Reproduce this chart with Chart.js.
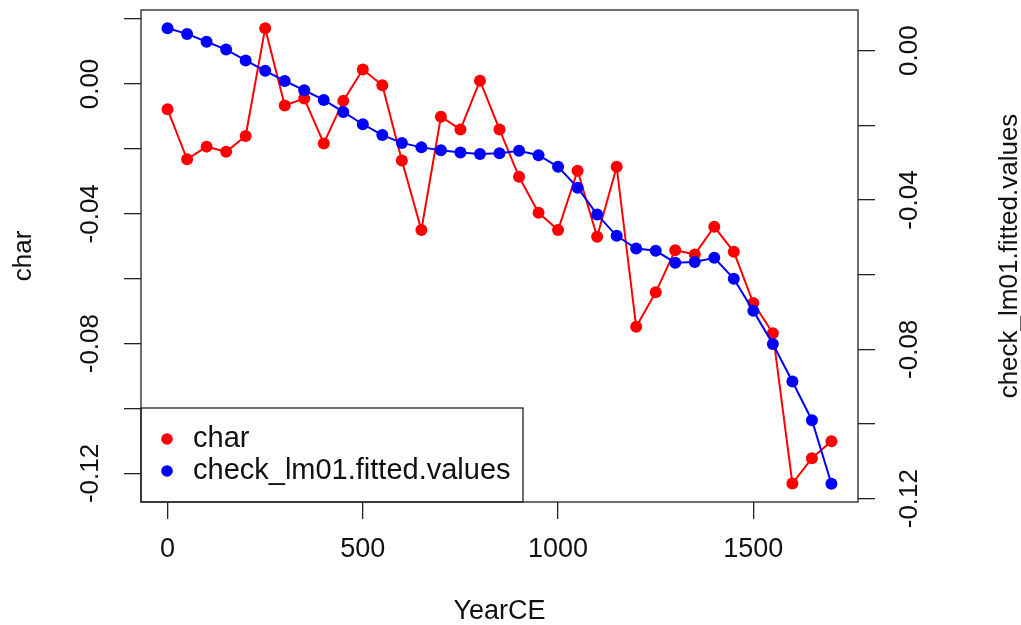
<!DOCTYPE html>
<html>
<head>
<meta charset="utf-8">
<script src="https://cdn.jsdelivr.net/npm/chart.js@4.4.1/dist/chart.umd.min.js"></script>
<style>
  html, body { margin: 0; padding: 0; background: #fff; }
</style>
</head>
<body>
<canvas id="chart" width="1021" height="625"></canvas>
<script>
// YearCE, one sample every 50 years
const years = [0, 50, 100, 150, 200, 250, 300, 350, 400, 450, 500, 550, 600, 650, 700, 750, 800, 850,
  900, 950, 1000, 1050, 1100, 1150, 1200, 1250, 1300, 1350, 1400, 1450, 1500, 1550, 1600, 1650, 1700];

// left axis series
const charValues = [-0.0078, -0.0232, -0.0193, -0.0209, -0.0160, 0.0172, -0.0066, -0.0045, -0.0183,
  -0.0052, 0.0045, -0.0004, -0.0236, -0.0450, -0.0101, -0.0140, 0.0010, -0.0140, -0.0286, -0.0397,
  -0.0450, -0.0267, -0.0471, -0.0255, -0.0748, -0.0642, -0.0512, -0.0525, -0.0440, -0.0517, -0.0675,
  -0.0768, -0.1231, -0.1153, -0.1101];

// right axis series
const fittedValues = [0.0060, 0.0045, 0.0024, 0.0003, -0.0026, -0.0054, -0.0081, -0.0106, -0.0132,
  -0.0164, -0.0197, -0.0226, -0.0247, -0.0259, -0.0267, -0.0273, -0.0277, -0.0275, -0.0268, -0.0280,
  -0.0311, -0.0367, -0.0439, -0.0496, -0.0530, -0.0536, -0.0568, -0.0566, -0.0555, -0.0611, -0.0697,
  -0.0786, -0.0886, -0.0990, -0.1160];

const yearTicks = [0, 500, 1000, 1500];
const charTicks = [0.02, 0, -0.02, -0.04, -0.06, -0.08, -0.10, -0.12];
const charTickLabels = ['', '0.00', '', '-0.04', '', '-0.08', '', '-0.12'];
const fittedTicks = [0, -0.02, -0.04, -0.06, -0.08, -0.10, -0.12];
const fittedTickLabels = ['0.00', '', '-0.04', '', '-0.08', '', '-0.12'];

const FONT = 'Liberation Sans, Arial, sans-serif';
const INK = '#111';

// plot frame + legend box in the bottom-left corner, like R's box() and legend()
const frame = {
  id: 'frame',
  afterDraw(chart) {
    const { ctx, chartArea: a } = chart;
    ctx.save();
    ctx.strokeStyle = '#222';
    ctx.lineWidth = 1.3;
    ctx.strokeRect(a.left, a.top, a.right - a.left, a.bottom - a.top);

    // legend
    const lw = 382, lh = 94;
    ctx.strokeRect(a.left, a.bottom - lh, lw, lh);
    ctx.font = '29px ' + FONT;
    ctx.textBaseline = 'middle';
    ctx.textAlign = 'left';
    const rows = [a.bottom - 63, a.bottom - 31];
    chart.data.datasets.slice().sort((p, q) => p.legendRank - q.legendRank).forEach((ds, i) => {
      ctx.fillStyle = ds.pointBackgroundColor;
      ctx.beginPath();
      ctx.arc(a.left + 26, rows[i], 5.8, 0, Math.PI * 2);
      ctx.fill();
      ctx.fillStyle = INK;
      ctx.fillText(ds.label, a.left + 52, rows[i]);
    });

    // right axis title reads bottom-to-top in R
    const s = chart.scales.y2;
    ctx.translate(s.right - 11, (s.top + s.bottom) / 2);
    ctx.rotate(-Math.PI / 2);
    ctx.textAlign = 'center';
    ctx.font = '26px ' + FONT;
    ctx.fillText(s.options.title.text, 0, 0);
    ctx.restore();
  }
};

const tickGrid = { drawOnChartArea: false, drawTicks: true, tickLength: 17, color: '#222', lineWidth: 1.3 };

new Chart(document.getElementById('chart'), {
  type: 'line',
  data: {
    datasets: [
      {
        label: 'check_lm01.fitted.values',
        legendRank: 1,
        data: years.map((x, i) => ({ x, y: fittedValues[i] })),
        yAxisID: 'y2',
        borderColor: '#0000FF',
        backgroundColor: '#0000FF',
        pointBackgroundColor: '#0000FF',
        borderWidth: 2,
        pointRadius: 6,
        pointBorderWidth: 0,
        order: 0
      },
      {
        label: 'char',
        legendRank: 0,
        data: years.map((x, i) => ({ x, y: charValues[i] })),
        yAxisID: 'y',
        borderColor: '#FF0000',
        backgroundColor: '#FF0000',
        pointBackgroundColor: '#FF0000',
        borderWidth: 2,
        pointRadius: 6,
        pointBorderWidth: 0,
        order: 1
      }
    ]
  },
  options: {
    responsive: false,
    animation: false,
    devicePixelRatio: 1,
    layout: { padding: { top: 10, left: 0, right: 0, bottom: 0 } },
    plugins: { legend: { display: false }, tooltip: { enabled: false } },
    scales: {
      x: {
        type: 'linear',
        position: 'bottom',
        min: -68,
        max: 1768,
        bounds: 'data',
        afterBuildTicks: s => { s.ticks = yearTicks.map(v => ({ value: v })); },
        afterFit: s => { s.height = 123; s.paddingLeft = 0; s.paddingRight = 0; },
        grid: tickGrid,
        border: { display: false },
        ticks: { autoSkip: false, maxRotation: 0, padding: 14, color: INK, font: { family: FONT, size: 27 },
          callback: v => String(v) },
        title: { display: true, text: 'YearCE', color: INK, font: { family: FONT, size: 27, lineHeight: 1 },
          padding: { top: 0, bottom: 0 } }
      },
      y: {
        type: 'linear',
        position: 'left',
        min: -0.1288,
        max: 0.0228,
        bounds: 'data',
        afterBuildTicks: s => { s.ticks = charTicks.map(v => ({ value: v })); },
        afterFit: s => { s.width = 141; s.paddingTop = 0; s.paddingBottom = 0; },
        grid: tickGrid,
        border: { display: false },
        ticks: { autoSkip: false, minRotation: 90, maxRotation: 90, crossAlign: 'center', padding: 4,
          color: INK, font: { family: FONT, size: 26 }, callback: (v, i) => charTickLabels[i] },
        title: { display: true, text: 'char', color: INK, font: { family: FONT, size: 26, lineHeight: 1 },
          padding: { top: 11, bottom: 0 } }
      },
      y2: {
        type: 'linear',
        position: 'right',
        min: -0.1209,
        max: 0.0109,
        bounds: 'data',
        afterBuildTicks: s => { s.ticks = fittedTicks.map(v => ({ value: v })); },
        afterFit: s => { s.width = 163; s.paddingTop = 0; s.paddingBottom = 0; },
        grid: tickGrid,
        border: { display: false },
        ticks: { autoSkip: false, minRotation: 90, maxRotation: 90, crossAlign: 'center', padding: 5,
          color: INK, font: { family: FONT, size: 26 }, callback: (v, i) => fittedTickLabels[i] },
        title: { display: false, text: 'check_lm01.fitted.values' }
      }
    }
  },
  plugins: [frame]
});
</script>
</body>
</html>
